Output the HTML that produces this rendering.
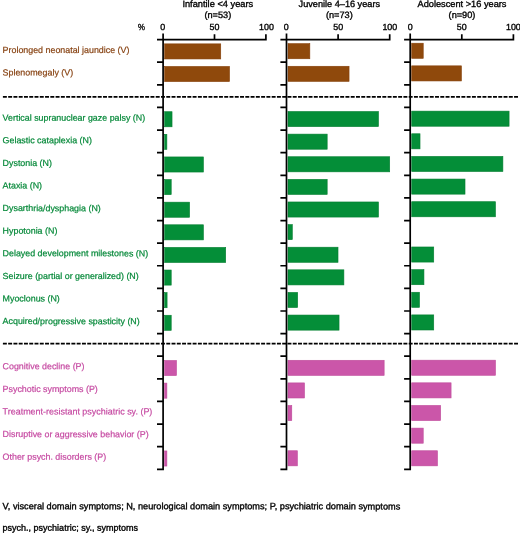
<!DOCTYPE html>
<html><head><meta charset="utf-8"><title>chart</title>
<style>html,body{margin:0;padding:0;background:#fff}svg{display:block;will-change:transform}text{font-family:"Liberation Sans",sans-serif;text-rendering:geometricPrecision}</style></head><body>
<svg width="520" height="534" viewBox="0 0 520 534">
<rect width="520" height="534" fill="#fff"/>
<rect x="164.60" y="43.86" width="56.14" height="15.10" fill="#8f490c" stroke="#853f08" stroke-width="0.6"/>
<rect x="288.00" y="43.66" width="21.84" height="15.10" fill="#8f490c" stroke="#853f08" stroke-width="0.6"/>
<rect x="411.70" y="43.21" width="11.52" height="15.10" fill="#8f490c" stroke="#853f08" stroke-width="0.6"/>
<text x="2.60" y="52.91" transform="rotate(0.03 2.60 52.91)" font-size="8.9" fill="#884414" stroke="#884414" stroke-width="0.2">Prolonged neonatal jaundice (V)</text>
<rect x="164.60" y="66.47" width="64.91" height="15.10" fill="#8f490c" stroke="#853f08" stroke-width="0.6"/>
<rect x="288.00" y="66.27" width="61.05" height="15.10" fill="#8f490c" stroke="#853f08" stroke-width="0.6"/>
<rect x="411.70" y="65.85" width="49.70" height="15.10" fill="#8f490c" stroke="#853f08" stroke-width="0.6"/>
<text x="2.60" y="75.51" transform="rotate(0.03 2.60 75.51)" font-size="8.9" fill="#884414" stroke="#884414" stroke-width="0.2">Splenomegaly (V)</text>
<rect x="164.60" y="111.71" width="7.43" height="15.10" fill="#048e38" stroke="#047e30" stroke-width="0.6"/>
<rect x="288.00" y="111.51" width="90.46" height="15.10" fill="#048e38" stroke="#047e30" stroke-width="0.6"/>
<rect x="411.70" y="111.13" width="97.38" height="15.10" fill="#048e38" stroke="#047e30" stroke-width="0.6"/>
<text x="2.60" y="120.71" transform="rotate(0.03 2.60 120.71)" font-size="8.9" fill="#048838" stroke="#048838" stroke-width="0.2">Vertical supranuclear gaze palsy (N)</text>
<rect x="164.60" y="134.32" width="2.27" height="15.10" fill="#048e38" stroke="#047e30" stroke-width="0.6"/>
<rect x="288.00" y="134.12" width="39.17" height="15.10" fill="#048e38" stroke="#047e30" stroke-width="0.6"/>
<rect x="411.70" y="133.77" width="8.32" height="15.10" fill="#048e38" stroke="#047e30" stroke-width="0.6"/>
<text x="2.60" y="143.31" transform="rotate(0.03 2.60 143.31)" font-size="8.9" fill="#048838" stroke="#048838" stroke-width="0.2">Gelastic cataplexia (N)</text>
<rect x="164.60" y="156.94" width="38.80" height="15.10" fill="#048e38" stroke="#047e30" stroke-width="0.6"/>
<rect x="288.00" y="156.74" width="101.71" height="15.10" fill="#048e38" stroke="#047e30" stroke-width="0.6"/>
<rect x="411.70" y="156.41" width="91.19" height="15.10" fill="#048e38" stroke="#047e30" stroke-width="0.6"/>
<text x="2.60" y="165.91" transform="rotate(0.03 2.60 165.91)" font-size="8.9" fill="#048838" stroke="#048838" stroke-width="0.2">Dystonia (N)</text>
<rect x="164.60" y="179.55" width="6.61" height="15.10" fill="#048e38" stroke="#047e30" stroke-width="0.6"/>
<rect x="288.00" y="179.35" width="39.17" height="15.10" fill="#048e38" stroke="#047e30" stroke-width="0.6"/>
<rect x="411.70" y="179.05" width="53.31" height="15.10" fill="#048e38" stroke="#047e30" stroke-width="0.6"/>
<text x="2.60" y="188.51" transform="rotate(0.03 2.60 188.51)" font-size="8.9" fill="#048838" stroke="#048838" stroke-width="0.2">Ataxia (N)</text>
<rect x="164.60" y="202.17" width="24.98" height="15.10" fill="#048e38" stroke="#047e30" stroke-width="0.6"/>
<rect x="288.00" y="201.97" width="90.46" height="15.10" fill="#048e38" stroke="#047e30" stroke-width="0.6"/>
<rect x="411.70" y="201.70" width="83.76" height="15.10" fill="#048e38" stroke="#047e30" stroke-width="0.6"/>
<text x="2.60" y="211.12" transform="rotate(0.03 2.60 211.12)" font-size="8.9" fill="#048838" stroke="#048838" stroke-width="0.2">Dysarthria/dysphagia (N)</text>
<rect x="164.60" y="224.79" width="38.80" height="15.10" fill="#048e38" stroke="#047e30" stroke-width="0.6"/>
<rect x="288.00" y="224.59" width="4.29" height="15.10" fill="#048e38" stroke="#047e30" stroke-width="0.6"/>
<text x="2.60" y="233.72" transform="rotate(0.03 2.60 233.72)" font-size="8.9" fill="#048838" stroke="#048838" stroke-width="0.2">Hypotonia (N)</text>
<rect x="164.60" y="247.40" width="61.10" height="15.10" fill="#048e38" stroke="#047e30" stroke-width="0.6"/>
<rect x="288.00" y="247.20" width="50.01" height="15.10" fill="#048e38" stroke="#047e30" stroke-width="0.6"/>
<rect x="411.70" y="246.98" width="22.04" height="15.10" fill="#048e38" stroke="#047e30" stroke-width="0.6"/>
<text x="2.60" y="256.32" transform="rotate(0.03 2.60 256.32)" font-size="8.9" fill="#048838" stroke="#048838" stroke-width="0.2">Delayed development milestones (N)</text>
<rect x="164.60" y="270.02" width="6.61" height="15.10" fill="#048e38" stroke="#047e30" stroke-width="0.6"/>
<rect x="288.00" y="269.82" width="55.89" height="15.10" fill="#048e38" stroke="#047e30" stroke-width="0.6"/>
<rect x="411.70" y="269.62" width="12.24" height="15.10" fill="#048e38" stroke="#047e30" stroke-width="0.6"/>
<text x="2.60" y="278.92" transform="rotate(0.03 2.60 278.92)" font-size="8.9" fill="#048838" stroke="#048838" stroke-width="0.2">Seizure (partial or generalized) (N)</text>
<rect x="164.60" y="292.63" width="2.48" height="15.10" fill="#048e38" stroke="#047e30" stroke-width="0.6"/>
<rect x="288.00" y="292.43" width="9.66" height="15.10" fill="#048e38" stroke="#047e30" stroke-width="0.6"/>
<rect x="411.70" y="292.26" width="7.80" height="15.10" fill="#048e38" stroke="#047e30" stroke-width="0.6"/>
<text x="2.60" y="301.52" transform="rotate(0.03 2.60 301.52)" font-size="8.9" fill="#048838" stroke="#048838" stroke-width="0.2">Myoclonus (N)</text>
<rect x="164.60" y="315.25" width="6.61" height="15.10" fill="#048e38" stroke="#047e30" stroke-width="0.6"/>
<rect x="288.00" y="315.05" width="51.04" height="15.10" fill="#048e38" stroke="#047e30" stroke-width="0.6"/>
<rect x="411.70" y="314.90" width="22.04" height="15.10" fill="#048e38" stroke="#047e30" stroke-width="0.6"/>
<text x="2.60" y="324.12" transform="rotate(0.03 2.60 324.12)" font-size="8.9" fill="#048838" stroke="#048838" stroke-width="0.2">Acquired/progressive spasticity (N)</text>
<rect x="164.60" y="360.48" width="11.87" height="15.10" fill="#cb56a9" stroke="#bf4a9a" stroke-width="0.6"/>
<rect x="288.00" y="360.28" width="96.14" height="15.10" fill="#cb56a9" stroke="#bf4a9a" stroke-width="0.6"/>
<rect x="411.70" y="360.18" width="83.76" height="15.10" fill="#cb56a9" stroke="#bf4a9a" stroke-width="0.6"/>
<text x="2.60" y="369.32" transform="rotate(0.03 2.60 369.32)" font-size="8.9" fill="#c64aa2" stroke="#c64aa2" stroke-width="0.2">Cognitive decline (P)</text>
<rect x="164.60" y="383.10" width="2.27" height="15.10" fill="#cb56a9" stroke="#bf4a9a" stroke-width="0.6"/>
<rect x="288.00" y="382.90" width="16.47" height="15.10" fill="#cb56a9" stroke="#bf4a9a" stroke-width="0.6"/>
<rect x="411.70" y="382.82" width="39.38" height="15.10" fill="#cb56a9" stroke="#bf4a9a" stroke-width="0.6"/>
<text x="2.60" y="391.92" transform="rotate(0.03 2.60 391.92)" font-size="8.9" fill="#c64aa2" stroke="#c64aa2" stroke-width="0.2">Psychotic symptoms (P)</text>
<rect x="288.00" y="405.51" width="3.78" height="15.10" fill="#cb56a9" stroke="#bf4a9a" stroke-width="0.6"/>
<rect x="411.70" y="405.46" width="28.96" height="15.10" fill="#cb56a9" stroke="#bf4a9a" stroke-width="0.6"/>
<text x="2.60" y="414.52" transform="rotate(0.03 2.60 414.52)" font-size="8.96" fill="#c64aa2" stroke="#c64aa2" stroke-width="0.2">Treatment-resistant psychiatric sy. (P)</text>
<rect x="411.70" y="428.11" width="11.52" height="15.10" fill="#cb56a9" stroke="#bf4a9a" stroke-width="0.6"/>
<text x="2.60" y="437.12" transform="rotate(0.03 2.60 437.12)" font-size="8.9" fill="#c64aa2" stroke="#c64aa2" stroke-width="0.2">Disruptive or aggressive behavior (P)</text>
<rect x="164.60" y="450.95" width="2.27" height="15.10" fill="#cb56a9" stroke="#bf4a9a" stroke-width="0.6"/>
<rect x="288.00" y="450.75" width="9.35" height="15.10" fill="#cb56a9" stroke="#bf4a9a" stroke-width="0.6"/>
<rect x="411.70" y="450.75" width="25.76" height="15.10" fill="#cb56a9" stroke="#bf4a9a" stroke-width="0.6"/>
<text x="2.60" y="459.73" transform="rotate(0.03 2.60 459.73)" font-size="8.9" fill="#c64aa2" stroke="#c64aa2" stroke-width="0.2">Other psych. disorders (P)</text>
<line x1="2.9" y1="96.85" x2="518" y2="96.85" stroke="#000" stroke-width="1.65" stroke-dasharray="3.95 1.32"/>
<line x1="2.9" y1="343.65" x2="518" y2="343.65" stroke="#000" stroke-width="1.65" stroke-dasharray="3.95 1.32"/>
<path d="M157.00 39.6H266.75 M163.10 39.6V470.15 M163.10 39.6V33.50 M214.50 39.6V34.30 M265.90 39.6V34.30 M157.00 62.22H163.10 M157.00 84.83H163.10 M157.00 107.45H163.10 M157.00 130.06H163.10 M157.00 152.68H163.10 M157.00 175.30H163.10 M157.00 197.91H163.10 M157.00 220.53H163.10 M157.00 243.14H163.10 M157.00 265.76H163.10 M157.00 288.38H163.10 M157.00 310.99H163.10 M157.00 333.61H163.10 M157.00 356.22H163.10 M157.00 378.84H163.10 M157.00 401.46H163.10 M157.00 424.07H163.10 M157.00 446.69H163.10 M157.00 469.30H163.10" stroke="#000" stroke-width="1.7" fill="none"/>
<text x="162.60" y="29.90" transform="rotate(0.03 162.60 29.90)" font-size="8.9" text-anchor="middle" fill="#000" stroke="#000" stroke-width="0.34">0</text>
<text x="214.55" y="29.90" transform="rotate(0.03 214.55 29.90)" font-size="8.9" text-anchor="middle" fill="#000" stroke="#000" stroke-width="0.34">50</text>
<text x="266.50" y="29.90" transform="rotate(0.03 266.50 29.90)" font-size="8.9" text-anchor="middle" fill="#000" stroke="#000" stroke-width="0.34">100</text>
<text x="217.80" y="6.90" transform="rotate(0.03 217.80 6.90)" font-size="9.27" text-anchor="middle" fill="#000" stroke="#000" stroke-width="0.34">Infantile &lt;4 years</text>
<text x="217.80" y="18.00" transform="rotate(0.03 217.80 18.00)" font-size="9.2" text-anchor="middle" fill="#000" stroke="#000" stroke-width="0.34">(n=53)</text>
<path d="M280.40 39.6H390.55 M286.50 39.6V470.15 M286.50 39.6V33.50 M338.10 39.6V34.30 M389.70 39.6V34.30 M280.40 62.22H286.50 M280.40 84.83H286.50 M280.40 107.45H286.50 M280.40 130.06H286.50 M280.40 152.68H286.50 M280.40 175.30H286.50 M280.40 197.91H286.50 M280.40 220.53H286.50 M280.40 243.14H286.50 M280.40 265.76H286.50 M280.40 288.38H286.50 M280.40 310.99H286.50 M280.40 333.61H286.50 M280.40 356.22H286.50 M280.40 378.84H286.50 M280.40 401.46H286.50 M280.40 424.07H286.50 M280.40 446.69H286.50 M280.40 469.30H286.50" stroke="#000" stroke-width="1.7" fill="none"/>
<text x="286.20" y="29.90" transform="rotate(0.03 286.20 29.90)" font-size="8.9" text-anchor="middle" fill="#000" stroke="#000" stroke-width="0.34">0</text>
<text x="338.20" y="29.90" transform="rotate(0.03 338.20 29.90)" font-size="8.9" text-anchor="middle" fill="#000" stroke="#000" stroke-width="0.34">50</text>
<text x="389.80" y="29.90" transform="rotate(0.03 389.80 29.90)" font-size="8.9" text-anchor="middle" fill="#000" stroke="#000" stroke-width="0.34">100</text>
<text x="339.30" y="6.90" transform="rotate(0.03 339.30 6.90)" font-size="9.16" text-anchor="middle" fill="#000" stroke="#000" stroke-width="0.34">Juvenile 4–16 years</text>
<text x="339.30" y="18.00" transform="rotate(0.03 339.30 18.00)" font-size="9.2" text-anchor="middle" fill="#000" stroke="#000" stroke-width="0.34">(n=73)</text>
<path d="M404.10 39.6H514.25 M410.20 39.6V470.15 M410.20 39.6V33.50 M461.80 39.6V34.30 M513.40 39.6V34.30 M404.10 62.22H410.20 M404.10 84.83H410.20 M404.10 107.45H410.20 M404.10 130.06H410.20 M404.10 152.68H410.20 M404.10 175.30H410.20 M404.10 197.91H410.20 M404.10 220.53H410.20 M404.10 243.14H410.20 M404.10 265.76H410.20 M404.10 288.38H410.20 M404.10 310.99H410.20 M404.10 333.61H410.20 M404.10 356.22H410.20 M404.10 378.84H410.20 M404.10 401.46H410.20 M404.10 424.07H410.20 M404.10 446.69H410.20 M404.10 469.30H410.20" stroke="#000" stroke-width="1.7" fill="none"/>
<text x="410.20" y="29.90" transform="rotate(0.03 410.20 29.90)" font-size="8.9" text-anchor="middle" fill="#000" stroke="#000" stroke-width="0.34">0</text>
<text x="461.80" y="29.90" transform="rotate(0.03 461.80 29.90)" font-size="8.9" text-anchor="middle" fill="#000" stroke="#000" stroke-width="0.34">50</text>
<text x="513.40" y="29.90" transform="rotate(0.03 513.40 29.90)" font-size="8.9" text-anchor="middle" fill="#000" stroke="#000" stroke-width="0.34">100</text>
<text x="462.00" y="6.90" transform="rotate(0.03 462.00 6.90)" font-size="9.22" text-anchor="middle" fill="#000" stroke="#000" stroke-width="0.34">Adolescent &gt;16 years</text>
<text x="462.00" y="18.00" transform="rotate(0.03 462.00 18.00)" font-size="9.2" text-anchor="middle" fill="#000" stroke="#000" stroke-width="0.34">(n=90)</text>
<text transform="translate(138.0 29.9) rotate(0.03) scale(0.88 1)" font-size="8.9" fill="#000" stroke="#000" stroke-width="0.34">%</text>
<text x="2.50" y="509.20" transform="rotate(0.03 2.50 509.20)" font-size="9.2" fill="#000" stroke="#000" stroke-width="0.34">V, visceral domain symptoms; N, neurological domain symptoms; P, psychiatric domain symptoms</text>
<text x="2.50" y="530.70" transform="rotate(0.03 2.50 530.70)" font-size="9.03" fill="#000" stroke="#000" stroke-width="0.34">psych., psychiatric; sy., symptoms</text>
</svg></body></html>
